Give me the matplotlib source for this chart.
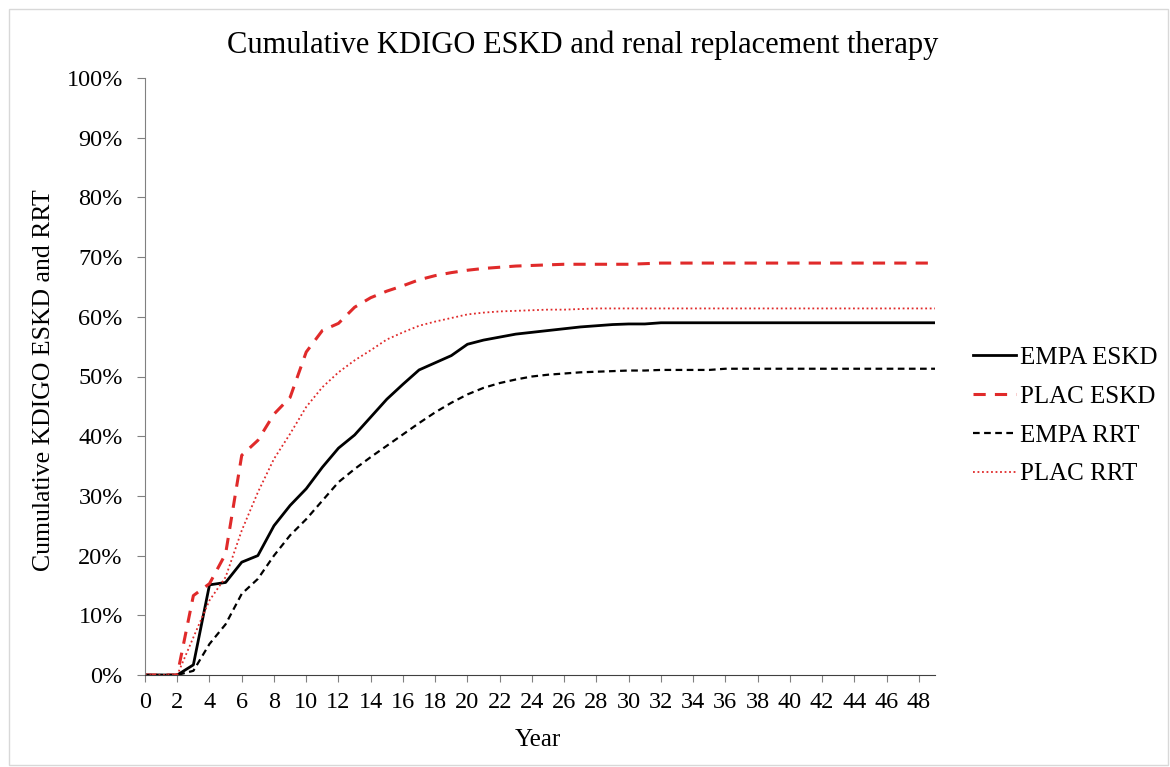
import matplotlib
matplotlib.use('Agg')
import matplotlib.pyplot as plt
from matplotlib.ticker import FuncFormatter

plt.rcParams['font.family'] = ['Liberation Serif', 'DejaVu Serif']

years = list(range(50))

empa_eskd = [0, 0, 0, 1.7, 15.1, 15.5, 18.9, 20.0, 25.0, 28.4,
             31.2, 34.8, 38.0, 40.2, 43.2, 46.2, 48.7, 51.1, 52.3, 53.5,
             55.4, 56.1, 56.6, 57.1, 57.4, 57.7, 58.0, 58.3, 58.5, 58.7,
             58.8, 58.8, 59.0, 59.0, 59.0, 59.0, 59.0, 59.0, 59.0, 59.0,
             59.0, 59.0, 59.0, 59.0, 59.0, 59.0, 59.0, 59.0, 59.0, 59.0]

plac_eskd = [0, 0, 0, 13.3, 15.3, 20.3, 36.8, 39.3, 43.7, 46.5,
             54.1, 57.7, 58.9, 61.6, 63.2, 64.3, 65.2, 66.2, 66.9, 67.4,
             67.8, 68.1, 68.3, 68.5, 68.6, 68.7, 68.8, 68.8, 68.8, 68.8,
             68.8, 68.9, 69.0, 69.0, 69.0, 69.0, 69.0, 69.0, 69.0, 69.0,
             69.0, 69.0, 69.0, 69.0, 69.0, 69.0, 69.0, 69.0, 69.0, 69.0]

empa_rrt = [0, 0, 0, 0.7, 5.2, 8.5, 13.6, 16.1, 20.0, 23.4,
            26.1, 29.2, 32.3, 34.5, 36.5, 38.4, 40.3, 42.2, 44.0, 45.6,
            47.0, 48.1, 48.9, 49.5, 50.0, 50.3, 50.5, 50.7, 50.8, 50.9,
            51.0, 51.0, 51.1, 51.1, 51.1, 51.1, 51.3, 51.3, 51.3, 51.3,
            51.3, 51.3, 51.3, 51.3, 51.3, 51.3, 51.3, 51.3, 51.3, 51.3]

plac_rrt = [0, 0, 0, 6.3, 12.5, 16.4, 24.2, 30.6, 36.2, 40.4,
            44.9, 48.2, 50.7, 52.7, 54.4, 56.2, 57.4, 58.5, 59.2, 59.8,
            60.4, 60.7, 60.9, 61.0, 61.1, 61.2, 61.2, 61.3, 61.4, 61.4,
            61.4, 61.4, 61.4, 61.4, 61.4, 61.4, 61.4, 61.4, 61.4, 61.4,
            61.4, 61.4, 61.4, 61.4, 61.4, 61.4, 61.4, 61.4, 61.4, 61.4]

red = '#e02a2a'
W, H = 1170, 767

fig = plt.figure(figsize=(11.7, 7.67), dpi=100)
ax = fig.add_axes([145 / W, 1 - 675 / H, 790 / W, 597 / H])

ax.plot(years, empa_eskd, color='black', lw=2.0, label='EMPA ESKD')
ax.plot(years, plac_eskd, color=red, lw=2.2, ls=(0, (4, 3)), label='PLAC ESKD')
ax.plot(years, empa_rrt, color='black', lw=1.6, ls=(0, (3, 2)), label='EMPA RRT')
ax.plot(years, plac_rrt, color=red, lw=1.3, ls=(0, (1, 1.5)), label='PLAC RRT')

ax.set_xlim(0, 49)
ax.set_ylim(0, 100)
ax.set_xticks(range(0, 49, 2))
ax.set_yticks(range(0, 101, 10))
ax.yaxis.set_major_formatter(FuncFormatter(lambda v, p: '%d%%' % v))
ax.tick_params(labelsize=17.5, color='#808080')
ax.tick_params(axis='x', length=5, pad=7)
ax.tick_params(axis='y', length=6, pad=10)
for s in ['top', 'right']:
    ax.spines[s].set_visible(False)
ax.spines['left'].set_color('#808080')
ax.spines['bottom'].set_color('#404040')

fig.text(583 / W, 1 - 45 / H, 'Cumulative KDIGO ESKD and renal replacement therapy',
         fontsize=22, ha='center', va='center')
fig.text(538 / W, 1 - 740 / H, 'Year', fontsize=18, ha='center', va='center')
fig.text(44 / W, 1 - 380 / H, 'Cumulative KDIGO ESKD and RRT', fontsize=18.5,
         rotation=90, ha='center', va='center')

ax.legend(loc='center left', bbox_to_anchor=((973 - 145) / 790, (675 - 416) / 597),
          frameon=False, fontsize=18, handlelength=1.7, handletextpad=0.2,
          labelspacing=0.65, borderpad=0, borderaxespad=0)

# light grey frame around the picture
fig.patches.append(plt.Rectangle((0.008, 0.003), 0.99, 0.985, transform=fig.transFigure,
                                 fill=False, edgecolor='#d8d8d8', lw=1))

plt.savefig('out.png')
